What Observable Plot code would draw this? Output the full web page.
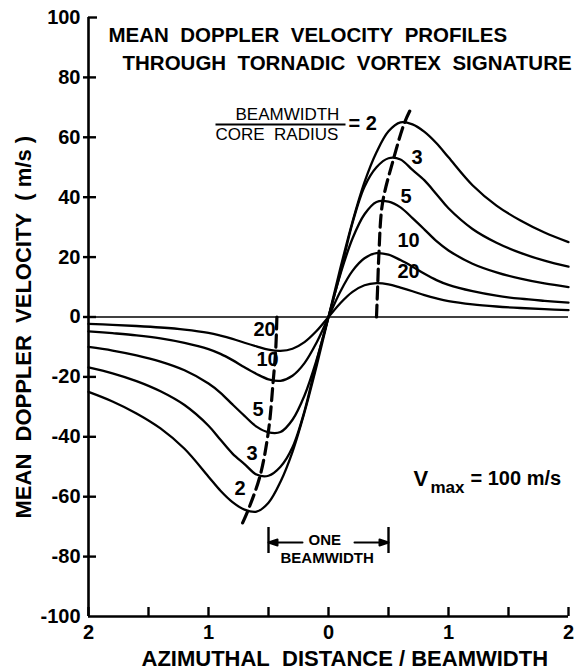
<!DOCTYPE html>
<html><head><meta charset="utf-8">
<script src="https://cdn.jsdelivr.net/npm/d3@7"></script>
<script src="https://cdn.jsdelivr.net/npm/@observablehq/plot@0.6"></script>
<style>
body{margin:0;background:#fff;}
#chart svg{display:block;}
</style></head><body><div id="chart"></div>
<script>
// ---- data ----
const xPos = [-2,-1.8,-1.6,-1.4,-1.2,-1,-0.9,-0.8,-0.7,-0.6,-0.5,-0.4,-0.3,-0.2,-0.1,0,0.1,0.2,0.3,0.4,0.5,0.6,0.7,0.8,0.9,1,1.2,1.4,1.6,1.8,2];
const vel2  = [-25,-28.2,-32.2,-37.2,-44,-53.3,-58,-61.8,-64.3,-65,-62,-55,-45,-31.8,-16.5,0,16.5,31.8,45,55,62,65,64.3,61.8,58,53.3,44,37.2,32.2,28.2,25];
const vel3  = [-16.8,-18.8,-21.4,-24.8,-29.4,-36.3,-41,-45.6,-49.1,-52.6,-53,-50,-43.5,-31.4,-15,0,15,31.4,43.5,50,53,52.6,49.1,45.6,41,36.3,29.4,24.8,21.4,18.8,16.8];
const vel5  = [-10,-11.2,-12.8,-14.9,-17.8,-22.2,-25.3,-29.2,-33,-36.6,-38.5,-38.4,-34.3,-26.2,-14.4,0,14.4,26.2,34.3,38.4,38.5,36.6,33,29.2,25.3,22.2,17.8,14.9,12.8,11.2,10];
const vel10 = [-4.8,-5.4,-6.1,-7.1,-8.6,-10.7,-12.3,-14.4,-16.8,-19,-20.8,-21.3,-19.6,-15.4,-8.6,0,8.6,15.4,19.6,21.3,20.8,19,16.8,14.4,12.3,10.7,8.6,7.1,6.1,5.4,4.8];
const vel20 = [-2.3,-2.6,-3,-3.5,-4.2,-5.3,-6.2,-7.3,-8.6,-9.8,-10.9,-11.3,-10.6,-8.4,-4.7,0,4.7,8.4,10.6,11.3,10.9,9.8,8.6,7.3,6.2,5.3,4.2,3.5,3,2.6,2.3];
const ratioLabels = ["2","3","5","10","20"];
// dashed lines through the extremes
const dashRightX = [0.40,0.41,0.42,0.45,0.54,0.63,0.68];
const dashRightY = [0,10.5,21,38,52.5,64.5,69];
const dashLeftX  = [-0.43,-0.44,-0.46,-0.5,-0.57,-0.67,-0.73];
const dashLeftY  = [0,-11,-21,-38,-53,-64.5,-70];
// axes
const yTickValues = [-100,-80,-60,-40,-20,0,20,40,60,80,100];
const xTickValues = [-2,-1.5,-1,-0.5,0,0.5,1,1.5,2];
const xLabelValues = [-2,-1,0,1,2];
const xLabelTexts = ["2","1","0","1","2"];
const beamSpan = [-0.5,0.5];

// ---- build tables ----
const velocities = [vel2, vel3, vel5, vel10, vel20];
const rows = ratioLabels.flatMap((r, k) => xPos.map((x, i) => ({x, v: velocities[k][i], ratio: r})));
const dashRows = [
  ...dashRightX.map((x, i) => ({x, y: dashRightY[i], side: "R"})),
  ...dashLeftX.map((x, i) => ({x, y: dashLeftY[i], side: "L"}))
];

const F = "'Liberation Sans', Arial, sans-serif";
const NB = "\u00a0\u00a0";
const lineShape = {draw(ctx, l) { ctx.moveTo(0, 0); ctx.lineTo(0, -l); }};
const arrowShape = {draw(ctx, l) {
  ctx.moveTo(0, 0); ctx.lineTo(0, -l + 6);
  ctx.moveTo(-3, -l + 9); ctx.lineTo(0, -l); ctx.lineTo(3, -l + 9); ctx.closePath();
}};

const W = 576, H = 671, ML = 88, MR = 8, MT = 17, MB = 55;
const pw = W - ML - MR, ph = H - MT - MB;
const TL = (px, py) => ({frameAnchor: "top-left", dx: px - ML, dy: py - MT});
const lbl = (t, px, py, o = {}) => Plot.text([t], {text: d => d, ...TL(px, py), fontSize: 20, fontWeight: "bold", lineAnchor: "middle", ...o});

const chart = Plot.plot({
  width: W, height: H,
  marginLeft: ML, marginRight: MR, marginTop: MT, marginBottom: MB,
  x: {domain: [-2, 2], axis: null},
  y: {domain: [-100, 100], axis: null},
  style: {fontFamily: F, background: "#fff", color: "#000"},
  marks: [
    Plot.ruleY([0], {stroke: "#000", strokeWidth: 1.4}),
    Plot.line(rows, {x: "x", y: "v", z: "ratio", curve: "catmull-rom", stroke: "#000", strokeWidth: 2.3}),
    Plot.line(dashRows, {x: "x", y: "y", z: "side", curve: "catmull-rom", stroke: "#000", strokeWidth: 3.2, strokeDasharray: "12,6"}),
    // axis lines
    Plot.ruleX([-2], {stroke: "#000", strokeWidth: 2.6}),
    Plot.ruleY([-100], {stroke: "#000", strokeWidth: 2.6}),
    // ticks
    Plot.tickY(yTickValues.filter(d => d !== 100 && d !== -100), {y: d => d, insetRight: pw - 13, dx: -5, stroke: "#000", strokeWidth: 2.4}),
    Plot.tickY(yTickValues.filter(d => d === 100), {y: d => d, insetRight: pw - 9, stroke: "#000", strokeWidth: 2.4}),
    Plot.tickX(xTickValues, {x: d => d, insetTop: ph - 9, stroke: "#000", strokeWidth: 2.4}),
    // tick labels
    Plot.text(yTickValues, {y: d => d, text: d => String(d), frameAnchor: "left", dx: -8, textAnchor: "end", fontSize: 20, fontWeight: "bold", lineAnchor: "middle"}),
    Plot.text(xLabelValues, {x: d => d, text: (d, i) => xLabelTexts[i], frameAnchor: "bottom", dy: 16, fontSize: 20, fontWeight: "bold", lineAnchor: "middle"}),
    // axis titles
    Plot.text(["AZIMUTHAL" + NB + "DISTANCE / BEAMWIDTH"], {text: d => d, frameAnchor: "bottom-left", dx: 141 - ML, dy: 42, textAnchor: "start", fontSize: 22, fontWeight: "bold", lineAnchor: "middle", ariaLabel: "xtitle"}),
    Plot.text(["MEAN" + NB + "DOPPLER" + NB + "VELOCITY" + NB + "( m/s )"], {text: d => d, frameAnchor: "left", dx: 23.5 - ML, dy: 518 - (MT + ph / 2), rotate: -90, textAnchor: "start", fontSize: 22, fontWeight: "bold", lineAnchor: "middle", ariaLabel: "ytitle"}),
    // title
    lbl("MEAN" + NB + "DOPPLER" + NB + "VELOCITY" + NB + "PROFILES", 108, 34.5, {textAnchor: "start", fontSize: 20.5, ariaLabel: "title1"}),
    lbl("THROUGH" + NB + "TORNADIC" + NB + "VORTEX" + NB + "SIGNATURE", 122, 63, {textAnchor: "start", fontSize: 20.5, ariaLabel: "title2"}),
    // fraction legend
    lbl("BEAMWIDTH", 235, 114.5, {textAnchor: "start", fontSize: 17, fontWeight: "normal", ariaLabel: "frac1"}),
    lbl("CORE" + NB + "RADIUS", 215, 134, {textAnchor: "start", fontSize: 17, fontWeight: "normal", ariaLabel: "frac2"}),
    Plot.vector([0], {...TL(215, 124), rotate: 90, length: 130, anchor: "start", shape: lineShape, stroke: "#000", strokeWidth: 1.8, strokeLinecap: "butt"}),
    lbl("= 2", 348, 123, {textAnchor: "start"}),
    // curve labels, right
    lbl("3", 411, 157), lbl("5", 400, 196), lbl("10", 397, 240), lbl("20", 397, 271),
    // curve labels, left
    lbl("20", 253, 329), lbl("10", 256, 359), lbl("5", 252, 409), lbl("3", 246, 453), lbl("2", 234, 488),
    // Vmax
    lbl("V", 413, 478, {textAnchor: "start", fontSize: 22}),
    lbl("max", 430, 487.5, {textAnchor: "start", fontSize: 17}),
    lbl("= 100 m/s", 470, 478, {textAnchor: "start", fontSize: 20, ariaLabel: "vmaxr"}),
    // one beamwidth
    Plot.tickX(beamSpan, {x: d => d, insetTop: 527 - MT, insetBottom: (H - MB) - 553, stroke: "#000", strokeWidth: 2.4}),
    Plot.vector(beamSpan, {x: d => d, frameAnchor: "top", dy: 542 - MT, rotate: d => d < 0 ? -90 : 90, length: 34, anchor: "end", shape: arrowShape, stroke: "#000", fill: "#000", strokeWidth: 2}),
    lbl("ONE", 308, 540, {textAnchor: "start", fontSize: 15, ariaLabel: "one"}),
    lbl("BEAMWIDTH", 280, 557.5, {textAnchor: "start", fontSize: 15, ariaLabel: "bw"})
  ]
});

const fits = {title1: 400, title2: 441, ytitle: 376, xtitle: 398, frac1: 107, frac2: 125, vmaxr: 87, one: 37, bw: 103};
for (const [k, w] of Object.entries(fits)) {
  chart.querySelectorAll(`g[aria-label="${k}"] text`).forEach(t => {
    t.setAttribute("textLength", w);
    t.setAttribute("lengthAdjust", "spacing");
  });
}
document.getElementById("chart").appendChild(chart);
</script>
</body></html>
